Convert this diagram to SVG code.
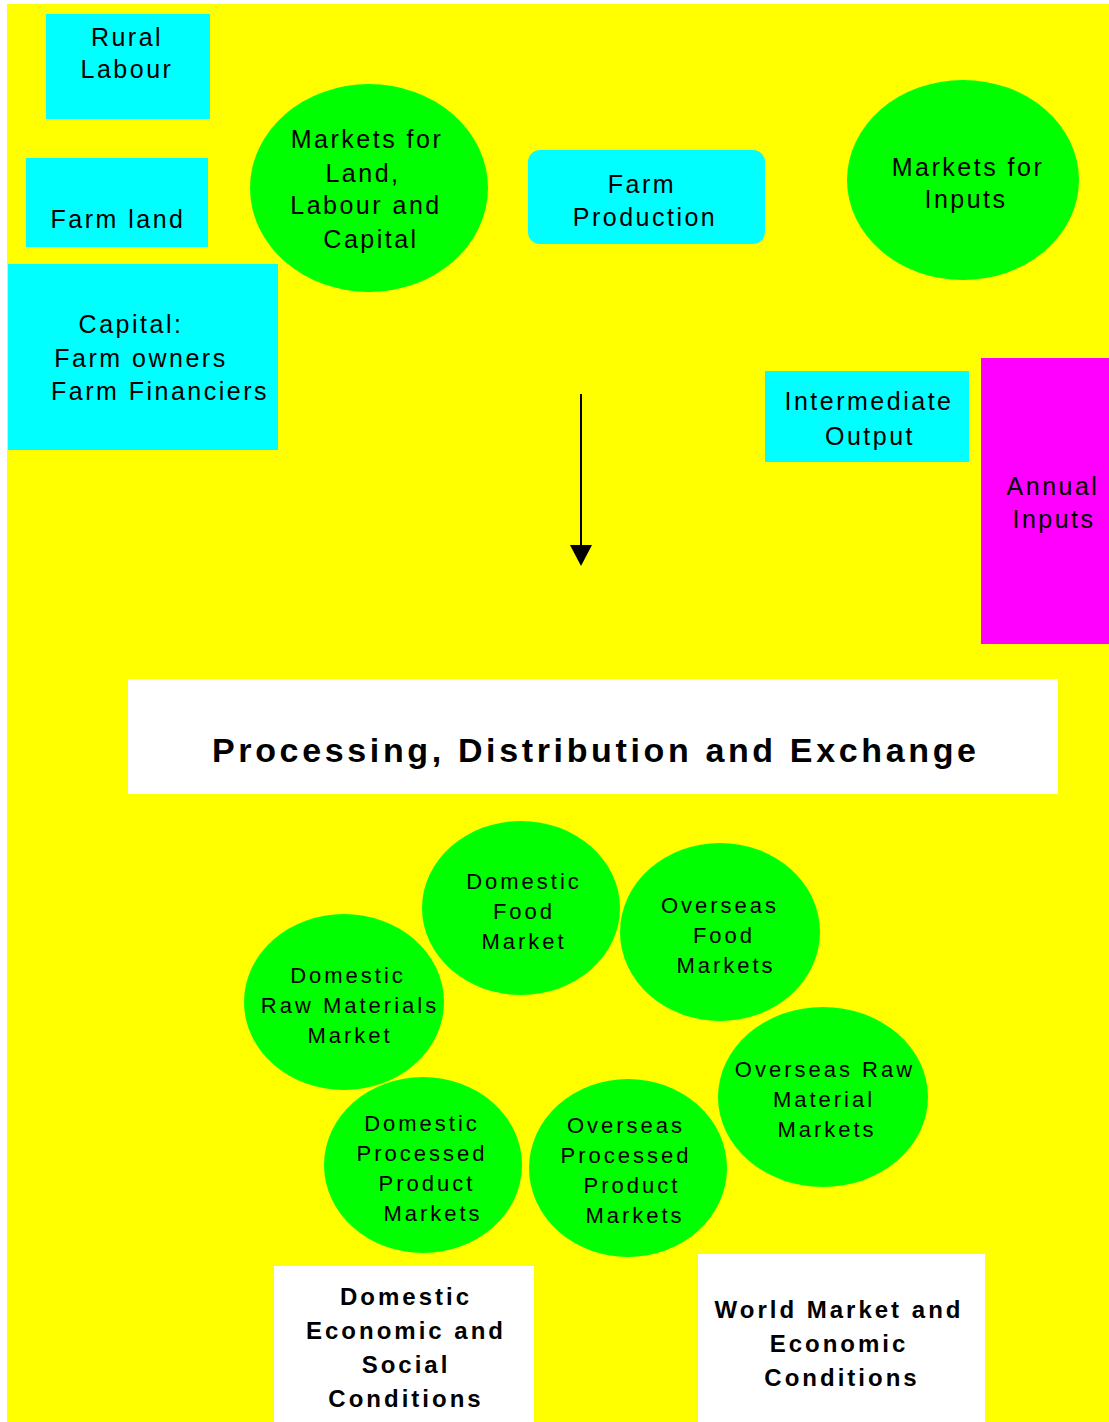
<svg xmlns="http://www.w3.org/2000/svg" width="1109" height="1422" viewBox="0 0 1109 1422">
<style>
.bg{fill:#ffff00}
.cy{fill:#00ffff}
.gr{fill:#00ff00}
.mg{fill:#ff00ff}
.wh{fill:#ffffff}
.t{font-family:"Liberation Sans",Arial,sans-serif;font-size:25px;letter-spacing:2.5px;fill:#000;text-anchor:middle}
.s{font-family:"Liberation Sans",Arial,sans-serif;font-size:22px;letter-spacing:3px;fill:#000;text-anchor:middle}
.b{font-family:"Liberation Sans",Arial,sans-serif;font-size:24px;font-weight:bold;letter-spacing:3px;fill:#000;text-anchor:middle}
.h{font-family:"Liberation Sans",Arial,sans-serif;font-size:34px;font-weight:bold;fill:#000}
.conn{stroke:#000;stroke-width:2;fill:none}
</style>
<rect x="0" y="0" width="1109" height="1422" fill="#ffffff"/>
<rect class="bg" x="7" y="4" width="1102" height="1418"/>

<g id="rural-labour">
<rect class="cy" x="46" y="14" width="164" height="105"/>
<text class="t" x="127" y="46">Rural</text>
<text class="t" x="127" y="78">Labour</text>
</g>
<g id="farm-land">
<rect class="cy" x="26" y="158" width="182" height="89"/>
<text class="t" x="118" y="228">Farm land</text>
</g>
<g id="capital">
<rect class="cy" x="8" y="264" width="270" height="186"/>
<text class="t" x="131" y="333">Capital:</text>
<text class="t" x="141" y="367">Farm owners</text>
<text class="t" x="160" y="400">Farm Financiers</text>
</g>
<g id="markets-land">
<ellipse class="gr" cx="369" cy="188" rx="119" ry="104"/>
<text class="t" x="367" y="148">Markets for</text>
<text class="t" x="363" y="182">Land,</text>
<text class="t" x="366" y="214">Labour and</text>
<text class="t" x="371" y="248">Capital</text>
</g>
<g id="farm-production">
<rect class="cy" x="528" y="150" width="237" height="94" rx="12"/>
<text class="t" x="642" y="193">Farm</text>
<text class="t" x="645" y="226">Production</text>
</g>
<g id="markets-inputs">
<ellipse class="gr" cx="963" cy="180" rx="116" ry="100"/>
<text class="t" x="968" y="176">Markets for</text>
<text class="t" x="966" y="208">Inputs</text>
</g>
<g id="intermediate-output">
<rect class="cy" x="765" y="371" width="204" height="91"/>
<text class="t" x="869" y="410">Intermediate</text>
<text class="t" x="870" y="445">Output</text>
</g>
<g id="annual-inputs">
<rect class="mg" x="981" y="358" width="128" height="286"/>
<text class="t" x="1053" y="495">Annual</text>
<text class="t" x="1054" y="528">Inputs</text>
</g>

<g id="connectors">
<line class="conn" x1="581" y1="394" x2="581" y2="552"/>
<path d="M570,545 L592,545 L581,566 z" fill="#000"/>
</g>

<g id="processing">
<rect class="wh" x="128" y="679" width="930" height="115"/>
<text class="h" x="212" y="762" textLength="764" lengthAdjust="spacing">Processing, Distribution and Exchange</text>
</g>

<g id="domestic-food">
<ellipse class="gr" cx="521" cy="908" rx="99" ry="87"/>
<text class="s" x="524" y="889">Domestic</text>
<text class="s" x="524" y="919">Food</text>
<text class="s" x="524" y="949">Market</text>
</g>
<g id="overseas-food">
<ellipse class="gr" cx="720" cy="932" rx="100" ry="89"/>
<text class="s" x="720" y="913">Overseas</text>
<text class="s" x="724" y="943">Food</text>
<text class="s" x="726" y="973">Markets</text>
</g>
<g id="domestic-raw">
<ellipse class="gr" cx="344" cy="1002" rx="100" ry="88"/>
<text class="s" x="348" y="983">Domestic</text>
<text class="s" x="350" y="1013">Raw Materials</text>
<text class="s" x="350" y="1043">Market</text>
</g>
<g id="overseas-raw">
<ellipse class="gr" cx="823" cy="1097" rx="105" ry="90"/>
<text class="s" x="825" y="1077">Overseas Raw</text>
<text class="s" x="824" y="1107">Material</text>
<text class="s" x="827" y="1137">Markets</text>
</g>
<g id="domestic-processed">
<ellipse class="gr" cx="423" cy="1165" rx="99" ry="88"/>
<text class="s" x="422" y="1131">Domestic</text>
<text class="s" x="422" y="1161">Processed</text>
<text class="s" x="427" y="1191">Product</text>
<text class="s" x="433" y="1221">Markets</text>
</g>
<g id="overseas-processed">
<ellipse class="gr" cx="628" cy="1168" rx="99" ry="89"/>
<text class="s" x="626" y="1133">Overseas</text>
<text class="s" x="626" y="1163">Processed</text>
<text class="s" x="632" y="1193">Product</text>
<text class="s" x="635" y="1223">Markets</text>
</g>

<g id="domestic-conditions">
<rect class="wh" x="274" y="1266" width="260" height="156"/>
<text class="b" x="406" y="1305">Domestic</text>
<text class="b" x="406" y="1339">Economic and</text>
<text class="b" x="406" y="1373">Social</text>
<text class="b" x="406" y="1407">Conditions</text>
</g>
<g id="world-conditions">
<rect class="wh" x="698" y="1254" width="287" height="168"/>
<text class="b" x="839" y="1318">World Market and</text>
<text class="b" x="839" y="1352">Economic</text>
<text class="b" x="842" y="1386">Conditions</text>
</g>
</svg>
